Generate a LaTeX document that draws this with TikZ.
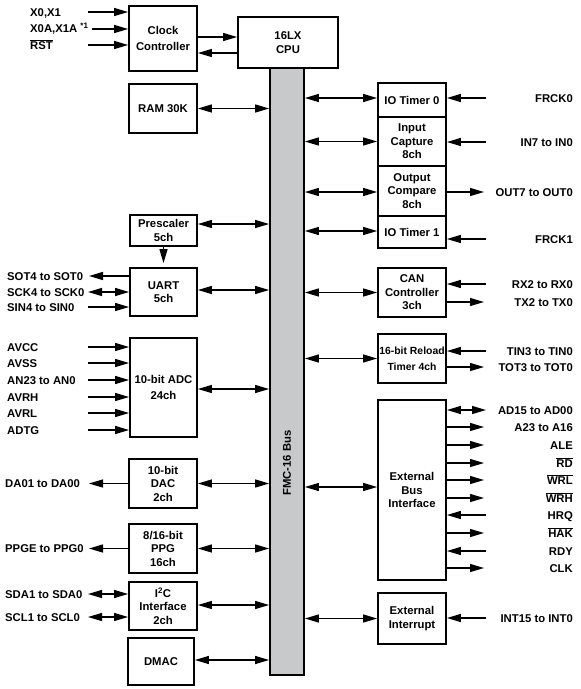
\documentclass[tikz,border=0pt]{standalone}
\usepackage{fontspec}
\setmainfont{Liberation Sans}
\usetikzlibrary{arrows.meta,calc}
\definecolor{busgray}{RGB}{200,201,203}
\newcommand\fsz{\fontsize{11.3}{13.5}\selectfont\bfseries}
\newcommand\ovl[1]{$\overline{\hbox{\fsz #1}}$}
\begin{document}
\begin{tikzpicture}[x=1pt,y=-1pt,
  box/.style={draw, line width=1.8pt, inner sep=0pt, align=center, font=\fsz},
  lbl/.style={inner sep=0pt, font=\fsz, text height=8.1pt, text depth=0pt},
  llbl/.style={lbl, anchor=west},
  rlbl/.style={lbl, anchor=east},
  ar/.style={line width=1.3pt, -{Triangle[length=14pt,width=8pt]}},
  bi/.style={line width=1.3pt, {Triangle[length=14pt,width=8pt]}-{Triangle[length=14pt,width=8pt]}}]
\useasboundingbox (0,0) rectangle (581,689);
% x references for free ends
\coordinate (lx) at (88,0);
\coordinate (lxo) at (89,0);
\coordinate (rx) at (486,0);
\coordinate (rxo) at (484,0);
% bus
\node[box, fill=busgray, minimum width=34pt, minimum height=607pt] (bus) at (287,371.5) {};
\node[font=\fsz, rotate=90] (buslbl) at (287,463) {FMC-16 Bus};
% left column boxes
\node[box, minimum width=68pt, minimum height=65pt] (clk) at (163,38.5) {Clock\\[2.5pt]Controller};
\node[box, minimum width=100pt, minimum height=51pt] (cpu) at (288,42.5) {16LX\\CPU};
\node[box, minimum width=68pt, minimum height=49pt] (ram) at (163,108.5) {RAM 30K};
\node[box, minimum width=67pt, minimum height=31pt] (presc) at (163.5,230.5) {Prescaler\\5ch};
\node[box, minimum width=67pt, minimum height=48pt] (uart) at (163.5,292) {UART\\5ch};
\node[box, minimum width=67pt, minimum height=99pt] (adc) at (163.5,387.5) {10-bit ADC\\[2pt]24ch};
\node[box, minimum width=68pt, minimum height=49pt] (dac) at (163,483.5) {10-bit\\DAC\\2ch};
\node[box, minimum width=68pt, minimum height=49pt] (ppg) at (163,548.5) {8/16-bit\\PPG\\16ch};
\node[box, minimum width=68pt, minimum height=48pt] (i2c) at (163,606) {I\textsuperscript{2}C\\Interface\\2ch};
\node[box, minimum width=66pt, minimum height=47pt] (dmac) at (161,661.5) {DMAC};
% right column boxes
\node[box, minimum width=68pt, minimum height=34pt] (iot0) at (412,100) {IO Timer 0};
\node[box, minimum width=68pt, minimum height=49pt] (icap) at (412,141.5) {Input\\Capture\\8ch};
\node[box, minimum width=68pt, minimum height=50pt] (ocmp) at (412,191) {Output\\Compare\\8ch};
\node[box, minimum width=68pt, minimum height=32pt] (iot1) at (412,232) {IO Timer 1};
\node[box, minimum width=68pt, minimum height=49pt] (can) at (412,292.5) {CAN\\Controller\\3ch};
\node[box, minimum width=68pt, minimum height=49pt, font=\fontsize{10.4}{16}\selectfont\bfseries] (rld) at (412,358.5) {16-bit Reload\\Timer 4ch};
\node[box, minimum width=68pt, minimum height=180pt] (ebi) at (412,490) {External\\Bus\\Interface};
\node[box, minimum width=68pt, minimum height=51pt] (eint) at (412,618.5) {External\\Interrupt};
% clock / cpu
\node[llbl] (x0) at (30,12) {X0,X1};
\node[llbl] (x0a) at (30,28) {X0A,X1A \textsuperscript{*1}};
\node[llbl] (rst) at (30,45) {\ovl{RST}};
\coordinate (c1) at (88,12);
\coordinate (c2) at (92,29);
\coordinate (c3) at (88,45);
\draw[ar] (c1) -- (c1 -| clk.west);
\draw[ar] (c2) -- (c2 -| clk.west);
\draw[ar] (c3) -- (c3 -| clk.west);
\draw[ar] ([yshift=1.5pt]clk.east) -- ([yshift=1.5pt]clk.east -| cpu.west);
\draw[ar] ([yshift=-14.5pt]clk.east -| cpu.west) -- ([yshift=-14.5pt]clk.east);
% bus connections left
\draw[bi] (ram.east) -- (ram.east -| bus.west);
\draw[bi] ([yshift=6.5pt]presc.east) -- ([yshift=6.5pt]presc.east -| bus.west);
\draw[bi] ([yshift=2pt]uart.east) -- ([yshift=2pt]uart.east -| bus.west);
\draw[bi] ([yshift=-1.5pt]adc.east) -- ([yshift=-1.5pt]adc.east -| bus.west);
\draw[bi] (dac.east) -- (dac.east -| bus.west);
\draw[bi] (ppg.east) -- (ppg.east -| bus.west);
\draw[bi] ([yshift=1pt]i2c.east) -- ([yshift=1pt]i2c.east -| bus.west);
\draw[bi] ([yshift=1.5pt]dmac.east) -- ([yshift=1.5pt]dmac.east -| bus.west);
\draw[ar, shorten >=4pt] (presc.south) -- (uart.north);
% bus connections right
\draw[bi] ([yshift=2pt]iot0.west -| bus.east) -- ([yshift=2pt]iot0.west);
\draw[bi] (icap.west -| bus.east) -- (icap.west);
\draw[bi] ([yshift=-1pt]ocmp.west -| bus.east) -- ([yshift=-1pt]ocmp.west);
\draw[bi] ([yshift=1pt]iot1.west -| bus.east) -- ([yshift=1pt]iot1.west);
\draw[bi] (can.west -| bus.east) -- (can.west);
\draw[bi] (rld.west -| bus.east) -- (rld.west);
\draw[bi] ([yshift=3pt]ebi.west -| bus.east) -- ([yshift=3pt]ebi.west);
\draw[bi] (eint.west -| bus.east) -- (eint.west);
% UART signals
\node[llbl] (sot) at (7,276) {SOT4 to SOT0};
\node[llbl] (sck) at (7,292) {SCK4 to SCK0};
\node[llbl] (sin) at (7,307) {SIN4 to SIN0};
\draw[ar] (sot -| uart.west) -- (sot -| lxo);
\draw[bi] (sck -| lx) -- (sck -| uart.west);
\draw[ar] (sin -| lx) -- (sin -| uart.west);
% ADC signals
\node[llbl] (avcc) at (7,347) {AVCC};
\node[llbl] (avss) at (7,363) {AVSS};
\node[llbl] (an) at (7,380) {AN23 to AN0};
\node[llbl] (avrh) at (7,397) {AVRH};
\node[llbl] (avrl) at (7,413) {AVRL};
\node[llbl] (adtg) at (7,430) {ADTG};
\foreach \n in {avcc,avss,an,avrh,avrl,adtg}
  \draw[ar] (\n -| lx) -- (\n -| adc.west);
% DAC, PPG, I2C
\node[llbl] (da) at (5,483.5) {DA01 to DA00};
\node[llbl] (ppge) at (5,548.5) {PPGE to PPG0};
\node[llbl] (sda) at (5,594) {SDA1 to SDA0};
\node[llbl] (scl) at (5,617) {SCL1 to SCL0};
\draw[ar] (da -| dac.west) -- (da -| lxo);
\draw[ar] (ppge -| ppg.west) -- (ppge -| lxo);
\draw[bi] (sda -| lx) -- (sda -| i2c.west);
\draw[bi] (scl -| lx) -- (scl -| i2c.west);
% right side signals
\node[rlbl] (frck0) at (573,98) {FRCK0};
\node[rlbl] (in) at (573,142) {IN7 to IN0};
\node[rlbl] (out) at (573,192) {OUT7 to OUT0};
\node[rlbl] (frck1) at (573,239) {FRCK1};
\node[rlbl] (rxs) at (573,284) {RX2 to RX0};
\node[rlbl] (txs) at (573,302) {TX2 to TX0};
\node[rlbl] (tin) at (573,351) {TIN3 to TIN0};
\node[rlbl] (tot) at (573,367) {TOT3 to TOT0};
\draw[ar] (frck0 -| rx) -- (frck0 -| iot0.east);
\draw[ar] (in -| rx) -- (in -| icap.east);
\draw[ar] (out -| ocmp.east) -- (out -| rxo);
\draw[ar] (frck1 -| rx) -- (frck1 -| iot1.east);
\draw[ar] (rxs -| rx) -- (rxs -| can.east);
\draw[ar] (txs -| can.east) -- (txs -| rxo);
\draw[ar] (tin -| rx) -- (tin -| rld.east);
\draw[ar] (tot -| rld.east) -- (tot -| rxo);
% external bus interface signals
\node[rlbl] (ad) at (573,410) {AD15 to AD00};
\node[rlbl] (a23) at (573,427) {A23 to A16};
\node[rlbl] (ale) at (573,445) {ALE};
\node[rlbl] (rd) at (573,463) {\ovl{RD}};
\node[rlbl] (wrl) at (573,480) {\ovl{WRL}};
\node[rlbl] (wrh) at (573,498) {\ovl{WRH}};
\node[rlbl] (hrq) at (573,515) {HRQ};
\node[rlbl] (hak) at (573,533) {\ovl{HAK}};
\node[rlbl] (rdy) at (573,551) {RDY};
\node[rlbl] (clks) at (573,568) {CLK};
\draw[bi] (ad -| ebi.east) -- (ad -| rx);
\foreach \n in {a23,ale,rd,wrl,wrh,hak,clks}
  \draw[ar] (\n -| ebi.east) -- (\n -| rxo);
\foreach \n in {hrq,rdy}
  \draw[ar] (\n -| rx) -- (\n -| ebi.east);
% external interrupt
\node[rlbl] (int) at (573,618) {INT15 to INT0};
\draw[ar] (int -| rx) -- (int -| eint.east);
\end{tikzpicture}
\end{document}
